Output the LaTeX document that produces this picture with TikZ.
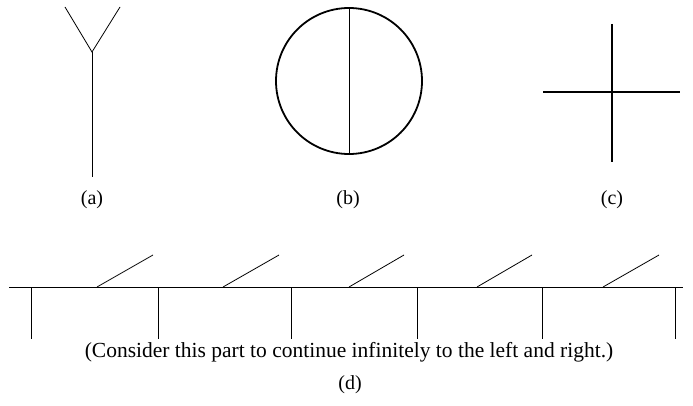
\documentclass[tikz,border=0pt]{standalone}
\usepackage{fontspec}
\setmainfont{Liberation Serif}
\usepackage{tikz}
\usetikzlibrary{positioning}
\tikzset{
  thinline/.style={line width=0.8pt},
  rimline/.style={line width=1.8pt},
  crossline/.style={line width=1.2pt},
  caption/.style={font=\fontsize{20}{24}\selectfont, inner sep=0pt},
  notetext/.style={font=\fontsize{21.5}{25}\selectfont, inner sep=0pt}
}

\begin{document}
\begin{tikzpicture}[x=1pt,y=1pt]
        \useasboundingbox (0,0) rectangle (693,405);
        % (a) the Y shape
        \coordinate (yjoin) at (92,353);
        \draw[thinline] (65,398) -- (yjoin) -- (120,398);
        \draw[thinline] (yjoin) -- (92,228);
        \node[caption] (capa) at (92,205) {(a)};
        % (b) circle with a diameter
        \draw[rimline] (349,324) circle (73);
        \draw[thinline] (349,397) -- (349,251);
        \node[caption] (capb) at (348,205) {(b)};
        % (c) the cross
        \draw[crossline] (612,381) -- (612,243);
        \draw[crossline] (543,313) -- (680,313);
        \node[caption] (capc) at (612,205) {(c)};
        % (d) the infinite strip
        \draw[thinline] (9,118) -- (683,118);
        \draw[thinline] (31,118) -- (31,66);
        \draw[thinline] (158,118) -- (158,66);
        \draw[thinline] (291,118) -- (291,66);
        \draw[thinline] (417,118) -- (417,66);
        \draw[thinline] (542,118) -- (542,66);
        \draw[thinline] (675,118) -- (675,66);
        \draw[thinline] (97,118) -- (153,150);
        \draw[thinline] (223,118) -- (279,150);
        \draw[thinline] (349,118) -- (404,150);
        \draw[thinline] (477,118) -- (532,150);
        \draw[thinline] (603,118) -- (659,150);
        \node[notetext] (note) at (349,53) {(Consider this part to continue infinitely to the left and right.)};
        \node[caption] (capd) at (350,20) {(d)};
\end{tikzpicture}
\end{document}
